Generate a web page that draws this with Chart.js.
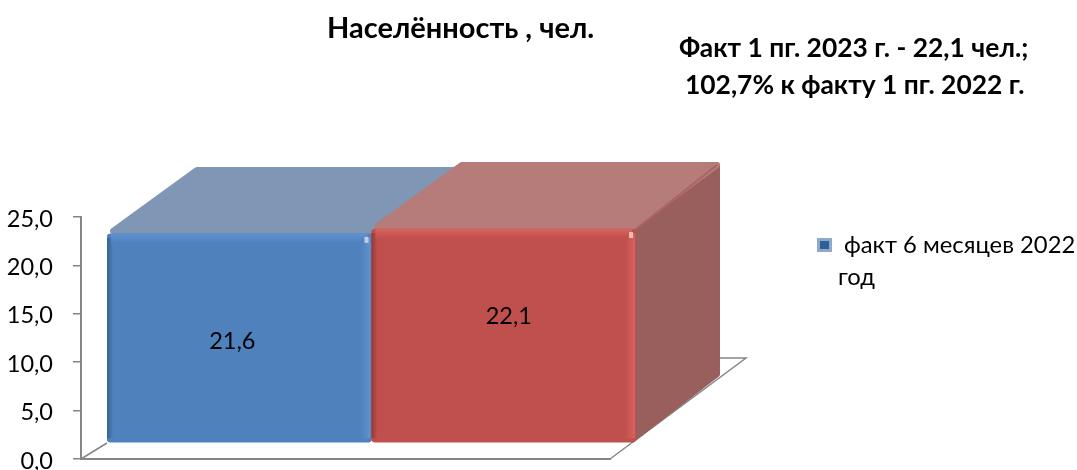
<!DOCTYPE html>
<html>
<head>
<meta charset="utf-8">
<script src="https://cdn.jsdelivr.net/npm/chart.js@4"></script>
<style>
    html, body { margin: 0; padding: 0; background: #fff; }
    #wrap { position: relative; width: 1077px; height: 470px; overflow: hidden; font-family: Lato, "Open Sans", sans-serif; color: #000; }
    #chart { position: absolute; left: 0; top: 0; }
    .txt { position: absolute; white-space: nowrap; font-size: 23.8px; line-height: 38px; }
    .b { font-weight: bold; font-size: 26.4px; }
    #marker { position: absolute; left: 817px; top: 238px; width: 15px; height: 14px; box-sizing: border-box;
              background: #2f5f98; border: 3px solid #8fa9cc; }
</style>
</head>
<body>
<div id="wrap">
    <canvas id="chart" width="1077" height="470"></canvas>
    <div class="txt b" id="title" style="left:327px; top:8px; font-size:29px;"></div>
    <div class="txt b" id="note1" style="left:679px; top:28px;"></div>
    <div class="txt b" id="note2" style="left:685px; top:65px;"></div>
    <div id="marker"></div>
    <div class="txt" id="leg1" style="left:844px; top:225px;"></div>
    <div class="txt" id="leg2" style="left:838px; top:257px;"></div>
</div>
<script>
// =======================
// DATA
// =======================
const chartTitle = "Населённость , чел.";
const noteLines = ["Факт 1 пг. 2023 г. - 22,1 чел.;", "102,7% к факту 1 пг. 2022 г."];
const legendLines = ["факт 6 месяцев 2022", "год"];
const categories = ["1 пг. 2022", "1 пг. 2023"];
const values = [21.6, 22.1];
const tickLabels = ["0,0", "5,0", "10,0", "15,0", "20,0", "25,0"];
const valueLabels = ["21,6", "22,1"];

// =======================
// STYLE
// =======================
const frontColors = ["#4f81bd", "#c0504d"];
const topColors = ["#7f97b5", "#b67c79"];
const sideColors = ["#6f8cab", "#985f5d"];
const lightEdge = ["#5f92d0", "#d8625e"];
const darkEdge = ["#35618f", "#8f3a37"];
const axisColor = "#868686";
const fontName = 'Lato, "Open Sans", sans-serif';

const front = { x: 26, y: -16 };   // bars stand a bit behind the axis plane
const depth = { left: 90, right: 84, y: -67 };   // back of the box is drawn in perspective
const floorDepth = { x: 136, y: -101 };
const labelNudge = [{ x: -7, y: 3 }, { x: 5, y: -19 }];

function poly(ctx, pts, fill) {
    ctx.beginPath();
    pts.forEach((p, i) => i ? ctx.lineTo(p[0], p[1]) : ctx.moveTo(p[0], p[1]));
    ctx.closePath();
    ctx.fillStyle = fill;
    ctx.fill();
}

function strip(ctx, x, y, w, h, horizontal, from, to) {
    let g = horizontal ? ctx.createLinearGradient(x, 0, x + w, 0) : ctx.createLinearGradient(0, y, 0, y + h);
    g.addColorStop(0, from);
    g.addColorStop(1, to);
    ctx.fillStyle = g;
    ctx.fillRect(x, y, w, h);
}

// =======================
// 3D PLUGIN
// =======================
const boxPlugin = {
    id: "box",
    beforeDatasetsDraw(chart) {
        let ctx = chart.ctx;
        let a = chart.chartArea;
        // floor outline
        ctx.save();
        ctx.strokeStyle = axisColor;
        ctx.lineWidth = 1.5;
        ctx.beginPath();
        ctx.moveTo(a.left + front.x, a.bottom + front.y);
        ctx.lineTo(a.left, a.bottom);
        ctx.moveTo(a.right, a.bottom);
        ctx.lineTo(a.right + floorDepth.x, a.bottom + floorDepth.y);
        ctx.lineTo(a.left + floorDepth.x, a.bottom + floorDepth.y);
        ctx.stroke();
        ctx.restore();
    },
    beforeDatasetDraw(chart) {
        let ctx = chart.ctx;
        ctx.save();
        ctx.translate(front.x, front.y);
        chart.getDatasetMeta(0).data.forEach((bar, i) => {
            let l = bar.x - bar.width / 2;
            let r = bar.x + bar.width / 2;
            let t = bar.y;
            let b = bar.base;
            ctx.save();
            ctx.lineJoin = "round";
            ctx.lineWidth = 6;
            ctx.strokeStyle = sideColors[i];
            poly(ctx, [[r - 3, t + 3], [r + depth.right - 3, t + depth.y + 3], [r + depth.right - 3, b + depth.y - 1], [r - 3, b - 3]], sideColors[i]);
            ctx.stroke();
            ctx.strokeStyle = topColors[i];
            poly(ctx, [[l + 6, t - 3], [l + depth.left, t + depth.y + 3], [r + depth.right - 3, t + depth.y + 3], [r - 2, t - 3]], topColors[i]);
            ctx.stroke();
            ctx.restore();
            // reddish fold between top and side of the box
            if (i) {
                ctx.strokeStyle = "#ad6460";
                ctx.lineWidth = 2;
                ctx.beginPath();
                ctx.moveTo(r, t);
                ctx.lineTo(r + depth.right - 3, t + depth.y + 3);
                ctx.stroke();
            }
        });
    },
    afterDatasetDraw(chart) {
        let ctx = chart.ctx;
        chart.getDatasetMeta(0).data.forEach((bar, i) => {
            let l = bar.x - bar.width / 2;
            let r = bar.x + bar.width / 2;
            let t = bar.y;
            let b = bar.base;
            let h = b - t;
            // bevel on the front face
            strip(ctx, l, t + 4, 6, h - 8, true, darkEdge[i], frontColors[i]);
            strip(ctx, r - 11, t + 4, 10, h - 8, true, frontColors[i], lightEdge[i]);
            strip(ctx, l + 4, t, bar.width - 8, 9, false, lightEdge[i], frontColors[i]);
            ctx.fillStyle = "rgba(255,255,255,0.6)";
            ctx.fillRect(r - 7, t + 3, 4, 6);
        });
        ctx.restore();

        // value labels
        ctx.save();
        ctx.fillStyle = "#000";
        ctx.font = "23.5px " + fontName;
        ctx.textAlign = "center";
        ctx.textBaseline = "middle";
        chart.getDatasetMeta(0).data.forEach((bar, i) => {
            let cy = (bar.y + bar.base) / 2;
            ctx.fillText(valueLabels[i], bar.x + front.x + labelNudge[i].x, cy + front.y + labelNudge[i].y);
        });
        ctx.restore();
    }
};

// =======================
// CHART
// =======================
new Chart(document.getElementById("chart"), {
    type: "bar",
    data: {
        labels: categories,
        datasets: [{
            label: legendLines.join(" "),
            data: values,
            backgroundColor: frontColors,
            borderRadius: 4,
            borderSkipped: false,
            barPercentage: 1,
            categoryPercentage: 1
        }]
    },
    options: {
        responsive: false,
        animation: false,
        layout: { padding: { left: 0, top: 217, right: 467, bottom: 11 } },
        plugins: { legend: { display: false }, title: { display: false }, tooltip: { enabled: false } },
        scales: {
            x: {
                grid: { display: false, drawTicks: false },
                border: { color: axisColor, width: 2 },
                ticks: { display: false },
                afterFit: scale => { scale.height = 0; }
            },
            y: {
                min: 0,
                max: 25,
                afterFit: scale => {
                    scale.width = 81;
                    scale.paddingTop = 0;
                    scale.paddingBottom = 0;
                },
                afterTickToLabelConversion: scale => {
                    scale.ticks.forEach((t, i) => { t.label = tickLabels[i]; });
                },
                ticks: {
                    stepSize: 5,
                    color: "#000",
                    padding: 20,
                    labelOffset: 2,
                    font: { family: fontName, size: 23.5 }
                },
                grid: { drawOnChartArea: false, color: axisColor, tickLength: 8, lineWidth: 1.5 },
                border: { color: axisColor, width: 2 }
            }
        }
    },
    plugins: [boxPlugin]
});

document.getElementById("title").innerText = chartTitle;
document.getElementById("note1").innerText = noteLines[0];
document.getElementById("note2").innerText = noteLines[1];
document.getElementById("leg1").innerText = legendLines[0];
document.getElementById("leg2").innerText = legendLines[1];
</script>
</body>
</html>
